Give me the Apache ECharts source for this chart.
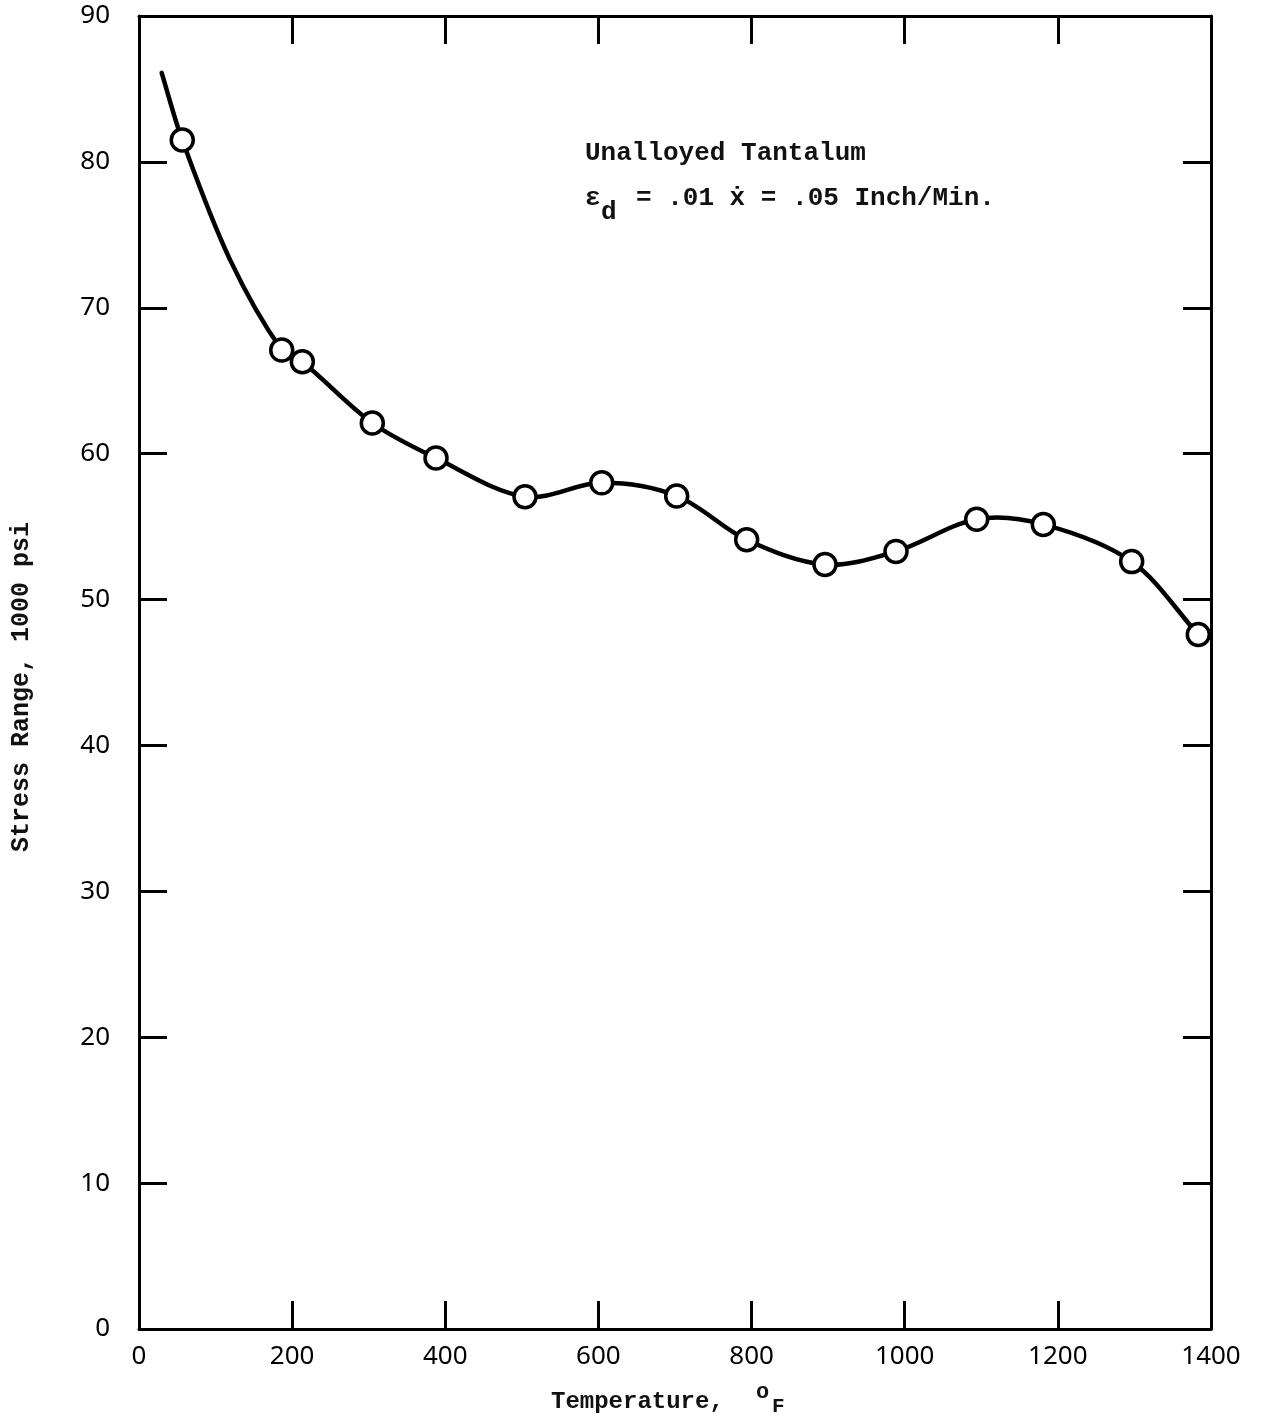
<!DOCTYPE html>
<html>
<head>
<meta charset="utf-8">
<script src="https://cdn.jsdelivr.net/npm/echarts@6/dist/echarts.min.js"></script>
<style>html,body{margin:0;padding:0;background:#fff;}#c{width:1266px;height:1422px;}</style>
</head>
<body>
<div id="c"></div>
<script>
// Data
const pointTemps  = [56.5, 186.4, 213.3, 304.7, 387.9, 504.1, 604.3, 702.2, 793.6, 895.9, 988.6, 1094, 1181, 1296.4, 1383.4];
const pointStress = [81.5, 67.1, 66.3, 62.1, 59.7, 57.05, 58.0, 57.1, 54.1, 52.4, 53.3, 55.5, 55.15, 52.6, 47.6];
// fitted curve drawn through the points
const curveTemps  = [29.6, 56.5, 118.8, 186.4, 213.3, 304.7, 387.9, 504.1, 604.3, 702.2, 793.6, 895.9, 988.6, 1094, 1181, 1296.4, 1383.4];
const curveStress = [86.1, 81.5, 73.3, 67.1, 66.3, 62.1, 59.7, 57.05, 58.0, 57.1, 54.1, 52.4, 53.3, 55.5, 55.15, 52.6, 47.6];
const xTicks = [0, 200, 400, 600, 800, 1000, 1200, 1400];
const yTicks = [0, 10, 20, 30, 40, 50, 60, 70, 80, 90];

const chart = echarts.init(document.getElementById('c'), null, {renderer: 'canvas'});
const mono = '"Liberation Mono", "DejaVu Sans Mono", monospace';
const sans = '"Noto Sans", "Open Sans", sans-serif';
const axisLineStyle = {color: '#000', width: 3};
const tickStyle = {color: '#000', width: 3};

function common() {
  return {min: 0, splitLine: {show: false},
    axisLine: {show: true, onZero: false, lineStyle: axisLineStyle},
    axisTick: {show: true, inside: true, length: 28, lineStyle: tickStyle}};
}

// smooth curve (chord-length Catmull-Rom) through the curve points, positioned via the chart's axes
function renderCurve(params, api) {
  if (params.dataIndex !== 0) return null;
  const pts = curveTemps.map((t, i) => api.coord([t, curveStress[i]]));
  const n = pts.length;
  const d = [];
  for (let i = 0; i < n - 1; i++) d.push(Math.hypot(pts[i+1][0]-pts[i][0], pts[i+1][1]-pts[i][1]));
  const tan = pts.map((p, i) => {
    if (i === 0) return [(pts[1][0]-p[0])/d[0], (pts[1][1]-p[1])/d[0]];
    if (i === n-1) return [(p[0]-pts[n-2][0])/d[n-2], (p[1]-pts[n-2][1])/d[n-2]];
    const s = d[i-1] + d[i];
    return [(pts[i+1][0]-pts[i-1][0])/s, (pts[i+1][1]-pts[i-1][1])/s];
  });
  let path = 'M' + pts[0][0] + ' ' + pts[0][1];
  for (let i = 0; i < n - 1; i++) {
    const a = pts[i], b = pts[i+1], L = d[i] / 3;
    const c1 = [a[0] + tan[i][0]*L, a[1] + tan[i][1]*L];
    const c2 = [b[0] - tan[i+1][0]*L, b[1] - tan[i+1][1]*L];
    path += ' C' + c1[0] + ' ' + c1[1] + ' ' + c2[0] + ' ' + c2[1] + ' ' + b[0] + ' ' + b[1];
  }
  return {type: 'path', shape: {pathData: path}, style: {stroke: '#000', lineWidth: 4.5, fill: null, lineCap: 'round'}};
}

chart.setOption({
  animation: false,
  backgroundColor: '#fff',
  grid: {left: 139, right: 55, top: 16, bottom: 93},
  xAxis: [
    Object.assign(common(), {type: 'value', max: xTicks[xTicks.length-1], interval: xTicks[1]-xTicks[0], position: 'bottom',
      axisLabel: {show: true, margin: 15, fontSize: 26, color: '#000', fontFamily: sans, formatter: v => String(v)}}),
    Object.assign(common(), {type: 'value', max: xTicks[xTicks.length-1], interval: xTicks[1]-xTicks[0], position: 'top',
      axisLabel: {show: false}})
  ],
  yAxis: [
    Object.assign(common(), {type: 'value', max: yTicks[yTicks.length-1], interval: yTicks[1]-yTicks[0], position: 'left',
      axisLabel: {show: true, margin: 29, fontSize: 26, color: '#000', fontFamily: sans, formatter: v => String(v)}}),
    Object.assign(common(), {type: 'value', max: yTicks[yTicks.length-1], interval: yTicks[1]-yTicks[0], position: 'right',
      axisLabel: {show: false}})
  ],
  series: [
    {type: 'custom', data: curveTemps.map((t,i)=>[t, curveStress[i]]), renderItem: renderCurve, z: 2, silent: true},
    {type: 'scatter', data: pointTemps.map((t,i)=>[t, pointStress[i]]), symbol: 'circle', symbolSize: 22,
      itemStyle: {color: '#fff', borderColor: '#000', borderWidth: 3.5, opacity: 1}, z: 3}
  ],
  graphic: [
    {type: 'text', left: 585, top: 140, style: {text: 'Unalloyed Tantalum', font: 'bold 26px ' + mono, fill: '#111'}},
    {type: 'text', left: 585, top: 185, style: {text: 'ε', font: 'bold 26px ' + mono, fill: '#111'}},
    {type: 'text', left: 601, top: 199, style: {text: 'd', font: 'bold 26px ' + mono, fill: '#111'}},
    {type: 'text', left: 636, top: 185, style: {text: '= .01 ẋ = .05 Inch/Min.', font: 'bold 26px ' + mono, fill: '#111'}},
    {type: 'text', left: 551, top: 1390, style: {text: 'Temperature,', font: 'bold 24px ' + mono, fill: '#111'}},
    {type: 'text', left: 756, top: 1381, style: {text: 'o', font: 'bold 22px ' + mono, fill: '#111'}},
    {type: 'text', left: 772, top: 1396, style: {text: 'F', font: 'bold 21px ' + mono, fill: '#111'}},
    {type: 'text', x: 9, y: 852, rotation: Math.PI/2, style: {text: 'Stress Range, 1000 psi', font: 'bold 25px ' + mono, fill: '#111'}}
  ]
});
</script>
</body>
</html>
